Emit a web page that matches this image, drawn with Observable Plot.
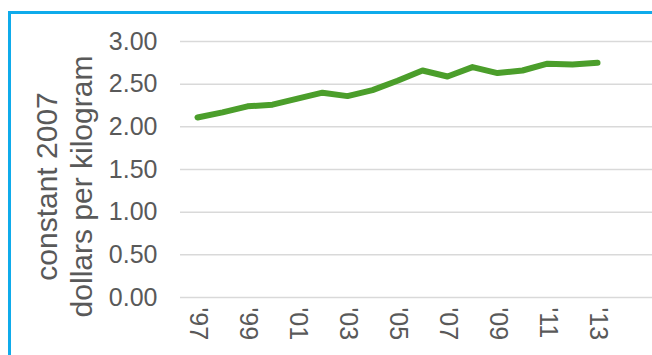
<!DOCTYPE html>
<html>
<head>
<meta charset="utf-8">
<script src="https://cdn.jsdelivr.net/npm/d3@7"></script>
<script src="https://cdn.jsdelivr.net/npm/@observablehq/plot@0.6"></script>
<style>
  html, body { margin: 0; padding: 0; background: #fff; overflow: hidden; }
  #wrap { position: relative; width: 652px; height: 355px; }
  #frame { position: absolute; left: 8px; top: 11px; width: 700px; height: 400px;
           border-left: 3px solid #0fabeb; border-top: 3px solid #0fabeb; }
  #chart { position: absolute; left: 0; top: 0; }
</style>
</head>
<body>
<div id="wrap"><div id="frame"></div><div id="chart"></div></div>
<script>
const years = [1997,1998,1999,2000,2001,2002,2003,2004,2005,2006,2007,2008,2009,2010,2011,2012,2013];
const prices = [2.11,2.17,2.24,2.26,2.33,2.40,2.36,2.43,2.54,2.66,2.59,2.70,2.63,2.66,2.74,2.73,2.75];
const yTicks = [0, 0.5, 1, 1.5, 2, 2.5, 3];
const xTicks = [1997,1999,2001,2003,2005,2007,2009,2011,2013];
const yLabel = ["constant 2007\ndollars per kilogram"];

const data = years.map((y, i) => ({year: y, price: prices[i]}));

const chart = Plot.plot({
  width: 652,
  height: 355,
  marginLeft: 180,
  marginRight: 0,
  marginTop: 41,
  marginBottom: 58,
  style: {fontFamily: "Liberation Sans, Arial, sans-serif", fontSize: "25px", color: "#595959", background: "transparent", overflow: "visible"},
  x: {domain: [1996.32, 2015.2]},
  y: {domain: [0, 3]},
  marks: [
    Plot.gridY(yTicks, {stroke: "#d9d9d9", strokeOpacity: 1, strokeWidth: 1.5}),
    Plot.axisY(yTicks, {tickSize: 0, tickPadding: 23, tickFormat: d3.format(".2f"), fontSize: 25, label: null}),
    Plot.axisX(xTicks, {tickSize: 0, tickPadding: 10, tickRotate: 90, fontSize: 25,
      tickFormat: d => "'" + String(d).slice(2), label: null}),
    Plot.text(yLabel, {frameAnchor: "left", rotate: -90, textAnchor: "middle", lineAnchor: "middle",
      lineHeight: 1.17, fontSize: 30, dx: -117, dy: 17, fill: "currentColor"}),
    Plot.line(data, {x: "year", y: "price", stroke: "#4b9e2b", strokeWidth: 6, strokeLinejoin: "round", strokeLinecap: "round"})
  ]
});
document.getElementById("chart").appendChild(chart);
</script>
</body>
</html>
